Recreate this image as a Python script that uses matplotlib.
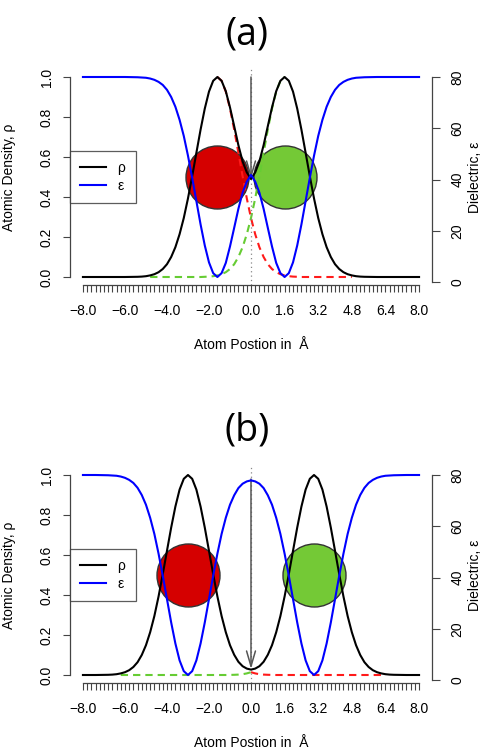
import matplotlib
matplotlib.use('Agg')
import matplotlib.pyplot as plt

plt.rcParams['font.family'] = ['Liberation Sans', 'DejaVu Sans']

W, H = 482, 750
fig = plt.figure(figsize=(W / 100, H / 100), dpi=100)

# ---------------- data ----------------
x_ticks_labelled = [-8.0, -6.0, -4.0, -2.0, 0.0, 1.6, 3.2, 4.8, 6.4, 8.0]
x_tick_text = ['\u22128.0', '\u22126.0', '\u22124.0', '\u22122.0', '0.0', '1.6', '3.2', '4.8', '6.4', '8.0']
rho_ticks = [0.0, 0.2, 0.4, 0.6, 0.8, 1.0]
rho_tick_text = ['0.0', '0.2', '0.4', '0.6', '0.8', '1.0']
eps_ticks = [0, 20, 40, 60, 80]
eps_tick_text = ['0', '20', '40', '60', '80']

# panel (a): atoms at -1.6 and 1.6
a_x = [-8.0, -6.0, -5.4, -5.2, -5.0, -4.8, -4.6, -4.4, -4.2, -4.0, -3.8, -3.6, -3.4, -3.2, -3.0,
       -2.8, -2.6, -2.4, -2.2, -2.0, -1.8, -1.6, -1.4, -1.2, -1.0, -0.8, -0.6, -0.4, -0.2, 0.0,
       0.2, 0.4, 0.6, 0.8, 1.0, 1.2, 1.4, 1.6, 1.8, 2.0, 2.2, 2.4, 2.6, 2.8, 3.0,
       3.2, 3.4, 3.6, 3.8, 4.0, 4.2, 4.4, 4.6, 4.8, 5.0, 5.2, 5.4, 6.0, 8.0]
a_rho = [0.0, 0.0, 0.001, 0.002, 0.004, 0.008, 0.014, 0.024, 0.040, 0.064, 0.100, 0.149, 0.214, 0.295, 0.393,
         0.504, 0.621, 0.737, 0.842, 0.927, 0.981, 1.000, 0.981, 0.929, 0.848, 0.754, 0.659, 0.578, 0.523, 0.490,
         0.523, 0.578, 0.659, 0.754, 0.848, 0.929, 0.981, 1.000, 0.981, 0.927, 0.842, 0.737, 0.621, 0.504, 0.393,
         0.295, 0.214, 0.149, 0.100, 0.064, 0.040, 0.024, 0.014, 0.008, 0.004, 0.002, 0.001, 0.0, 0.0]
a_eps = [80.0, 80.0, 79.9, 79.8, 79.7, 79.4, 78.9, 78.1, 76.9, 75.0, 72.2, 68.4, 63.3, 57.0, 49.3,
         40.7, 31.6, 22.5, 14.3, 7.7, 3.5, 2.0, 3.5, 7.5, 13.9, 21.2, 28.6, 34.9, 39.2, 41.8,
         39.2, 34.9, 28.6, 21.2, 13.9, 7.5, 3.5, 2.0, 3.5, 7.7, 14.3, 22.5, 31.6, 40.7, 49.3,
         57.0, 63.3, 68.4, 72.2, 75.0, 76.9, 78.1, 78.9, 79.4, 79.7, 79.8, 79.9, 80.0, 80.0]
a_red_x = [-1.6, -1.4, -1.2, -1.0, -0.8, -0.6, -0.4, -0.2, 0.0, 0.2, 0.4, 0.6, 0.8, 1.0, 1.2, 1.4,
           1.6, 1.8, 2.0, 2.2, 2.4, 3.2, 4.0, 4.8]
a_red_y = [1.000, 0.981, 0.927, 0.842, 0.737, 0.621, 0.504, 0.393, 0.295, 0.214, 0.149, 0.100, 0.064,
           0.040, 0.024, 0.014, 0.008, 0.004, 0.002, 0.001, 0.0, 0.0, 0.0, 0.0]
a_green_x = [-4.8, -4.0, -3.2, -2.4, -2.2, -2.0, -1.8, -1.6, -1.4, -1.2, -1.0, -0.8, -0.6, -0.4, -0.2,
             0.0, 0.2, 0.4, 0.6, 0.8, 1.0, 1.2, 1.4, 1.6]
a_green_y = [0.0, 0.0, 0.0, 0.0, 0.001, 0.002, 0.004, 0.008, 0.014, 0.024, 0.040, 0.064, 0.100, 0.149,
             0.214, 0.295, 0.393, 0.504, 0.621, 0.737, 0.842, 0.927, 0.981, 1.000]
a_atoms_x = [-1.6, 1.6]
a_arrow = [1.0, 0.49]

# panel (b): atoms at -3.0 and 3.0
b_x = [-8.0, -7.4, -6.8, -6.6, -6.4, -6.2, -6.0, -5.8, -5.6, -5.4, -5.2, -5.0, -4.8, -4.6, -4.4,
       -4.2, -4.0, -3.8, -3.6, -3.4, -3.2, -3.0, -2.8, -2.6, -2.4, -2.2, -2.0, -1.8, -1.6, -1.4,
       -1.2, -1.0, -0.8, -0.6, -0.4, -0.2, 0.0, 0.2, 0.4, 0.6, 0.8, 1.0, 1.2, 1.4, 1.6,
       1.8, 2.0, 2.2, 2.4, 2.6, 2.8, 3.0, 3.2, 3.4, 3.6, 3.8, 4.0, 4.2, 4.4, 4.6,
       4.8, 5.0, 5.2, 5.4, 5.6, 5.8, 6.0, 6.2, 6.4, 6.6, 6.8, 7.4, 8.0]
b_rho = [0.0, 0.0, 0.001, 0.002, 0.004, 0.008, 0.014, 0.024, 0.040, 0.064, 0.100, 0.149, 0.214, 0.295, 0.393,
         0.504, 0.621, 0.737, 0.842, 0.927, 0.981, 1.000, 0.981, 0.927, 0.842, 0.737, 0.621, 0.504, 0.393, 0.295,
         0.214, 0.149, 0.101, 0.066, 0.044, 0.032, 0.027, 0.032, 0.044, 0.066, 0.101, 0.149, 0.214, 0.295, 0.393,
         0.504, 0.621, 0.737, 0.842, 0.927, 0.981, 1.000, 0.981, 0.927, 0.842, 0.737, 0.621, 0.504, 0.393, 0.295,
         0.214, 0.149, 0.100, 0.064, 0.040, 0.024, 0.014, 0.008, 0.004, 0.002, 0.001, 0.0, 0.0]
b_eps = [80.0, 80.0, 79.9, 79.8, 79.7, 79.4, 78.9, 78.1, 76.9, 75.0, 72.2, 68.4, 63.3, 57.0, 49.3,
         40.7, 31.6, 22.5, 14.3, 7.7, 3.5, 2.0, 3.5, 7.7, 14.3, 22.5, 31.6, 40.7, 49.3, 57.0,
         63.3, 68.4, 72.1, 74.9, 76.6, 77.5, 77.9, 77.5, 76.6, 74.9, 72.1, 68.4, 63.3, 57.0, 49.3,
         40.7, 31.6, 22.5, 14.3, 7.7, 3.5, 2.0, 3.5, 7.7, 14.3, 22.5, 31.6, 40.7, 49.3, 57.0,
         63.3, 68.4, 72.2, 75.0, 76.9, 78.1, 78.9, 79.4, 79.7, 79.8, 79.9, 80.0, 80.0]
b_red_x = [0.0, 0.2, 0.4, 0.6, 0.8, 1.2, 1.6, 2.4, 3.2, 4.0, 4.8, 5.6, 6.2]
b_red_y = [0.014, 0.008, 0.004, 0.002, 0.001, 0.0, 0.0, 0.0, 0.0, 0.0, 0.0, 0.0, 0.0]
b_green_x = [-6.2, -5.6, -4.8, -4.0, -3.2, -2.4, -1.6, -1.2, -0.8, -0.6, -0.4, -0.2, 0.0]
b_green_y = [0.0, 0.0, 0.0, 0.0, 0.0, 0.0, 0.0, 0.0, 0.001, 0.002, 0.004, 0.008, 0.014]
b_atoms_x = [-3.0, 3.0]
b_arrow = [0.98, 0.03]

atom_y = 0.5
eps_in, eps_out = 2.0, 80.0

# ---------------- styling ----------------
AX_COL = '#444444'
RED_FILL = '#D50000'
GREEN_FILL = '#74C936'
RED_DASH = '#FF1A1A'
GREEN_DASH = '#66CC33'
FS = 10


def panel(top_px, title, title_base, xl_base, x, rho, eps, rx, ry, gx, gy, atoms, arrow):
    left, right = 69.5, 432.5
    hpx = 216
    ax = fig.add_axes([left / W, 1 - (top_px + hpx) / H, (right - left) / W, hpx / H])
    ax.set_xlim(-8.64, 8.64)
    ax.set_ylim(-0.04, 1.04)
    ax.patch.set_alpha(0)
    ax2 = ax.twinx()
    pad_e = 0.04 * (eps_out - eps_in)
    ax2.set_ylim(eps_in - pad_e, eps_out + pad_e)

    for s in ['top', 'right']:
        ax.spines[s].set_visible(False)
    for s in ['top', 'left', 'bottom']:
        ax2.spines[s].set_visible(False)
    ax.spines['left'].set_bounds(0, 1)
    ax.spines['bottom'].set_bounds(-8, 8)
    ax2.spines['right'].set_bounds(0, 80)
    for sp in [ax.spines['left'], ax.spines['bottom'], ax2.spines['right']]:
        sp.set_color(AX_COL)
        sp.set_linewidth(0.9)

    # x ticks every 0.2, labels on selected ones
    all_ticks = [round(-8 + 0.2 * i, 1) for i in range(81)]
    lab_map = {v: t for v, t in zip(x_ticks_labelled, x_tick_text)}
    ax.set_xticks(all_ticks, [lab_map.get(v, '') for v in all_ticks])
    ax.tick_params(axis='x', length=5.2, width=0.8, color=AX_COL, labelsize=FS, pad=8.3)
    ax.set_yticks(rho_ticks, rho_tick_text, rotation=90, va='center')
    ax.tick_params(axis='y', length=5.2, width=0.8, color=AX_COL, labelsize=FS, pad=6.3)
    ax2.set_yticks(eps_ticks, eps_tick_text, rotation=90, va='center')
    ax2.tick_params(axis='y', length=5.8, width=0.8, color=AX_COL, labelsize=FS, pad=7.0)

    # atoms
    diam_pt = 63 * 0.72
    for cx, col in zip(atoms, [RED_FILL, GREEN_FILL]):
        ax.scatter([cx], [atom_y], s=diam_pt ** 2, c=col, edgecolors='#333333',
                   linewidths=1.0, zorder=1)

    ax.plot(rx, ry, color=RED_DASH, lw=1.5, dashes=(3.5, 2.4), zorder=2)
    ax.plot(gx, gy, color=GREEN_DASH, lw=1.5, dashes=(3.5, 2.4), zorder=2)
    ax.axvline(0, color='#888888', lw=0.9, ls=(0, (1, 2.5)), zorder=2.5)
    l_rho, = ax.plot(x, rho, color='black', lw=1.5, zorder=3)
    ax.annotate('', xy=(0, arrow[1]), xytext=(0, arrow[0]),
                arrowprops=dict(arrowstyle='->,head_length=1.1,head_width=0.32',
                                color='#555555', lw=1.1, shrinkA=0, shrinkB=0), zorder=4)
    l_eps, = ax2.plot(x, eps, color='#0000FF', lw=1.5, zorder=3)

    leg = ax2.legend([l_rho, l_eps], ['\u03c1', '\u03b5'], loc='center left',
                     bbox_to_anchor=(0.0, 0.5), borderaxespad=0, frameon=True, fancybox=False,
                     fontsize=FS, handlelength=1.9, handletextpad=0.8, borderpad=0.75,
                     labelspacing=0.25)
    leg.get_frame().set_edgecolor('#333333')
    leg.get_frame().set_linewidth(0.9)

    # texts
    yc = top_px + 108
    fig.text(9 / W, 1 - yc / H, 'Atomic Density, \u03c1', rotation=90, ha='center', va='center', fontsize=FS)
    fig.text(475 / W, 1 - yc / H, 'Dielectric, \u03b5', rotation=90, ha='center', va='center', fontsize=FS)
    fig.text(251 / W, 1 - xl_base / H, 'Atom Postion in  \u00c5', ha='center', va='baseline', fontsize=FS)
    fig.text(247 / W, 1 - title_base / H, title, ha='center', va='baseline', fontsize=27,
             family=['Open Sans', 'DejaVu Sans'])
    return ax, ax2


panel(69, '(a)', 45, 349, a_x, a_rho, a_eps, a_red_x, a_red_y, a_green_x, a_green_y, a_atoms_x, a_arrow)
panel(467, '(b)', 441, 747, b_x, b_rho, b_eps, b_red_x, b_red_y, b_green_x, b_green_y, b_atoms_x, b_arrow)

fig.savefig('out.png', dpi=100)
